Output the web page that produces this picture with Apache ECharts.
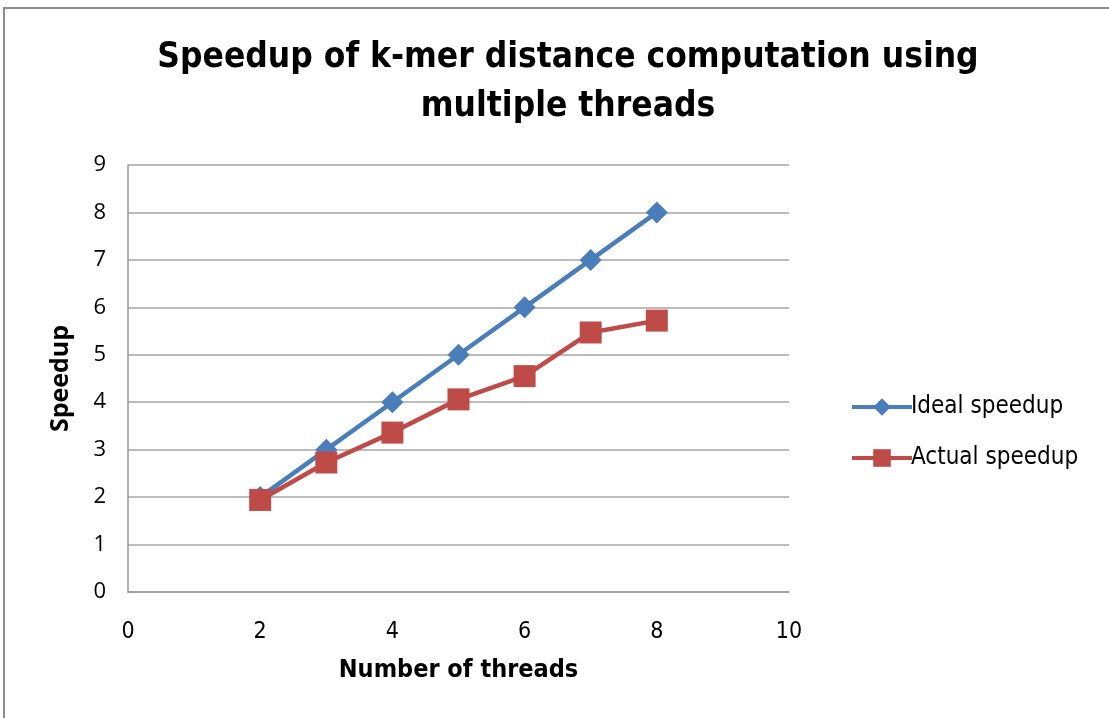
<!DOCTYPE html>
<html><head><meta charset="utf-8">
<script src="https://cdn.jsdelivr.net/npm/echarts@6/dist/echarts.min.js"></script>
<style>html,body{margin:0;padding:0;background:#fff}#c{width:1109px;height:718px}</style>
</head><body><div id="c"></div>
<script>
const threads = [2, 3, 4, 5, 6, 7, 8];
const idealSpeedup = [2, 3, 4, 5, 6, 7, 8];
const actualSpeedup = [1.94, 2.73, 3.36, 4.06, 4.55, 5.47, 5.72];
const titleText = 'Speedup of k-mer distance computation using\nmultiple threads';
const seriesNames = ['Ideal speedup', 'Actual speedup'];

const condensed = '"DejaVu Sans Condensed", "Liberation Sans Narrow", "DejaVu Sans", sans-serif';
const chart = echarts.init(document.getElementById('c'));
chart.setOption({
  animation: false,
  backgroundColor: '#fff',
  graphic: [{type: 'rect', shape: {x: 4, y: 8, width: 1120, height: 720}, style: {fill: 'none', stroke: '#8c8c8c', lineWidth: 2}, silent: true}],
  title: {
    text: titleText, left: 563, top: 28, textAlign: 'center',
    textStyle: {fontFamily: condensed, fontWeight: 'bold', fontSize: 35, lineHeight: 49, color: '#000'}
  },
  legend: {
    orient: 'vertical', left: 845, top: 390, itemGap: 27, itemWidth: 60, itemHeight: 22,
    textStyle: {fontFamily: condensed, fontSize: 24, color: '#000', padding: [0, 0, 0, -6]},
    lineStyle: {width: 4},
    data: seriesNames
  },
  grid: {left: 128, right: 320, top: 165, bottom: 126, containLabel: false},
  xAxis: {
    type: 'value', min: 0, max: 10, interval: 2,
    name: 'Number of threads', nameLocation: 'middle', nameGap: 66,
    nameTextStyle: {fontFamily: condensed, fontWeight: 'bold', fontSize: 25, color: '#000'},
    axisLine: {show: true, lineStyle: {color: '#999', width: 1.5}},
    axisTick: {show: false},
    splitLine: {show: false},
    axisLabel: {fontFamily: condensed, fontSize: 23, color: '#000', margin: 29}
  },
  yAxis: {
    type: 'value', min: 0, max: 9, interval: 1,
    name: 'Speedup', nameLocation: 'middle', nameGap: 55,
    nameTextStyle: {fontFamily: '"Open Sans", sans-serif', fontWeight: 'bold', fontSize: 25, color: '#000'},
    axisLine: {show: true, lineStyle: {color: '#999', width: 1.5}},
    axisTick: {show: false},
    splitLine: {show: true, lineStyle: {color: '#a6a6a6', width: 1.5}},
    axisLabel: {fontFamily: '"Open Sans", sans-serif', fontSize: 22, color: '#000', margin: 22}
  },
  series: [
    {
      name: seriesNames[0], type: 'line', data: threads.map((t, i) => [t, idealSpeedup[i]]),
      symbol: 'diamond', symbolSize: 22, color: '#4a7ebb',
      lineStyle: {width: 4.5, color: '#4a7ebb'}, itemStyle: {color: '#4a7ebb'}
    },
    {
      name: seriesNames[1], type: 'line', data: threads.map((t, i) => [t, actualSpeedup[i]]),
      symbol: 'rect', symbolSize: 22, color: '#be4b48',
      lineStyle: {width: 4.5, color: '#be4b48'}, itemStyle: {color: '#be4b48'}
    }
  ]
});
</script></body></html>
